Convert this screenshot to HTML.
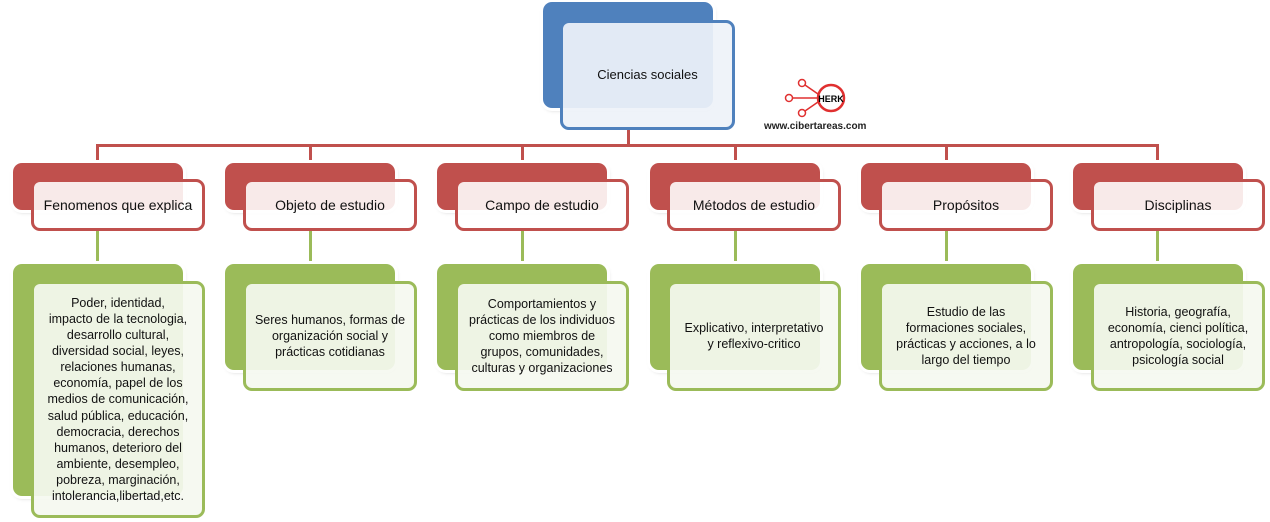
<!DOCTYPE html>
<html><head><meta charset="utf-8"><style>
body{margin:0;width:1270px;height:522px;background:#fff;position:relative;overflow:hidden;font-family:"Liberation Sans",sans-serif;}
.a{position:absolute;}
.bk{position:absolute;border-radius:9px;box-shadow:0 0 0 3px #fff,1px 2px 4px rgba(0,0,0,.25);}
.fr{position:absolute;border-radius:9px;border:3px solid;box-sizing:border-box;display:flex;align-items:center;justify-content:center;text-align:center;font-size:12.5px;color:#111;line-height:16px;white-space:nowrap;}
.r{background:#c0504d}.g{background:#9bbb59}
.fr.r2{border-color:#c0504d;background:rgba(255,255,255,.88);font-size:14px}
.fr.g2{border-color:#9bbb59;background:rgba(245,249,240,.92)}
.ln{position:absolute;}
</style></head><body>
<div class="bk" style="left:543px;top:2px;width:170px;height:106px;background:#4f81bd"></div>
<div class="fr" style="left:560px;top:20px;width:175px;height:110px;border-color:#4f81bd;background:rgba(238,242,249,.93);font-size:13px;">Ciencias sociales</div>
<div class="ln" style="left:627px;top:130px;width:3px;height:16px;background:#c0504d"></div>
<div class="ln" style="left:96px;top:144px;width:1063px;height:3px;background:#c0504d"></div>
<!-- logo -->
<svg class="a" style="left:780px;top:78px" width="70" height="40">
<g fill="none" stroke="#e03030" stroke-width="1.5">
<circle cx="51" cy="20" r="13" stroke-width="2.5"/>
<circle cx="22" cy="5" r="3.5"/><circle cx="9" cy="20" r="3.5"/><circle cx="22" cy="35" r="3.5"/>
<line x1="25" y1="7" x2="38" y2="16"/><line x1="12" y1="20" x2="38" y2="20"/><line x1="25" y1="33" x2="38" y2="24"/>
</g><text x="51" y="24" font-size="9" font-family="Liberation Sans" text-anchor="middle" font-weight="bold">HERK</text></svg>
<div class="a" style="left:764px;top:121px;font-size:10px;font-weight:bold;color:#222">www.cibertareas.com</div>

<div class="ln" style="left:96px;top:146px;width:3px;height:18px;background:#c0504d"></div>
<div class="ln" style="left:309px;top:146px;width:3px;height:18px;background:#c0504d"></div>
<div class="ln" style="left:521px;top:146px;width:3px;height:18px;background:#c0504d"></div>
<div class="ln" style="left:734px;top:146px;width:3px;height:18px;background:#c0504d"></div>
<div class="ln" style="left:945px;top:146px;width:3px;height:18px;background:#c0504d"></div>
<div class="ln" style="left:1156px;top:146px;width:3px;height:18px;background:#c0504d"></div>

<!-- col1 -->
<div class="bk r" style="left:13px;top:163px;width:170px;height:47px"></div>
<div class="ln" style="left:96px;top:230px;width:3px;height:35px;background:#9bbb59"></div>
<div class="fr r2" style="left:31px;top:179px;width:174px;height:52px">Fenomenos que explica</div>
<div class="bk g" style="left:13px;top:264px;width:170px;height:232px"></div>
<div class="fr g2" style="left:31px;top:281px;width:174px;height:237px;line-height:16.1px">Poder, identidad,<br>impacto de la tecnologia,<br>desarrollo cultural,<br>diversidad social, leyes,<br>relaciones humanas,<br>economía, papel de los<br>medios de comunicación,<br>salud pública, educación,<br>democracia, derechos<br>humanos, deterioro del<br>ambiente, desempleo,<br>pobreza, marginación,<br>intolerancia,libertad,etc.</div>

<!-- col2 -->
<div class="bk r" style="left:225px;top:163px;width:170px;height:47px"></div>
<div class="ln" style="left:309px;top:230px;width:3px;height:35px;background:#9bbb59"></div>
<div class="fr r2" style="left:243px;top:179px;width:174px;height:52px">Objeto de estudio</div>
<div class="bk g" style="left:225px;top:264px;width:170px;height:106px"></div>
<div class="fr g2" style="left:243px;top:281px;width:174px;height:110px">Seres humanos, formas de<br>organización social y<br>prácticas cotidianas</div>

<!-- col3 -->
<div class="bk r" style="left:437px;top:163px;width:170px;height:47px"></div>
<div class="ln" style="left:521px;top:230px;width:3px;height:35px;background:#9bbb59"></div>
<div class="fr r2" style="left:455px;top:179px;width:174px;height:52px">Campo de estudio</div>
<div class="bk g" style="left:437px;top:264px;width:170px;height:106px"></div>
<div class="fr g2" style="left:455px;top:281px;width:174px;height:110px">Comportamientos y<br>prácticas de los individuos<br>como miembros de<br>grupos, comunidades,<br>culturas y organizaciones</div>

<!-- col4 -->
<div class="bk r" style="left:650px;top:163px;width:170px;height:47px"></div>
<div class="ln" style="left:734px;top:230px;width:3px;height:35px;background:#9bbb59"></div>
<div class="fr r2" style="left:667px;top:179px;width:174px;height:52px">Métodos de estudio</div>
<div class="bk g" style="left:650px;top:264px;width:170px;height:106px"></div>
<div class="fr g2" style="left:667px;top:281px;width:174px;height:110px">Explicativo, interpretativo<br>y reflexivo-critico</div>

<!-- col5 -->
<div class="bk r" style="left:861px;top:163px;width:170px;height:47px"></div>
<div class="ln" style="left:945px;top:230px;width:3px;height:35px;background:#9bbb59"></div>
<div class="fr r2" style="left:879px;top:179px;width:174px;height:52px">Propósitos</div>
<div class="bk g" style="left:861px;top:264px;width:170px;height:106px"></div>
<div class="fr g2" style="left:879px;top:281px;width:174px;height:110px">Estudio de las<br>formaciones sociales,<br>prácticas y acciones, a lo<br>largo del tiempo</div>

<!-- col6 -->
<div class="bk r" style="left:1073px;top:163px;width:170px;height:47px"></div>
<div class="ln" style="left:1156px;top:230px;width:3px;height:35px;background:#9bbb59"></div>
<div class="fr r2" style="left:1091px;top:179px;width:174px;height:52px">Disciplinas</div>
<div class="bk g" style="left:1073px;top:264px;width:170px;height:106px"></div>
<div class="fr g2" style="left:1091px;top:281px;width:174px;height:110px">Historia, geografía,<br>economía, cienci política,<br>antropología, sociología,<br>psicología social</div>
</body></html>
